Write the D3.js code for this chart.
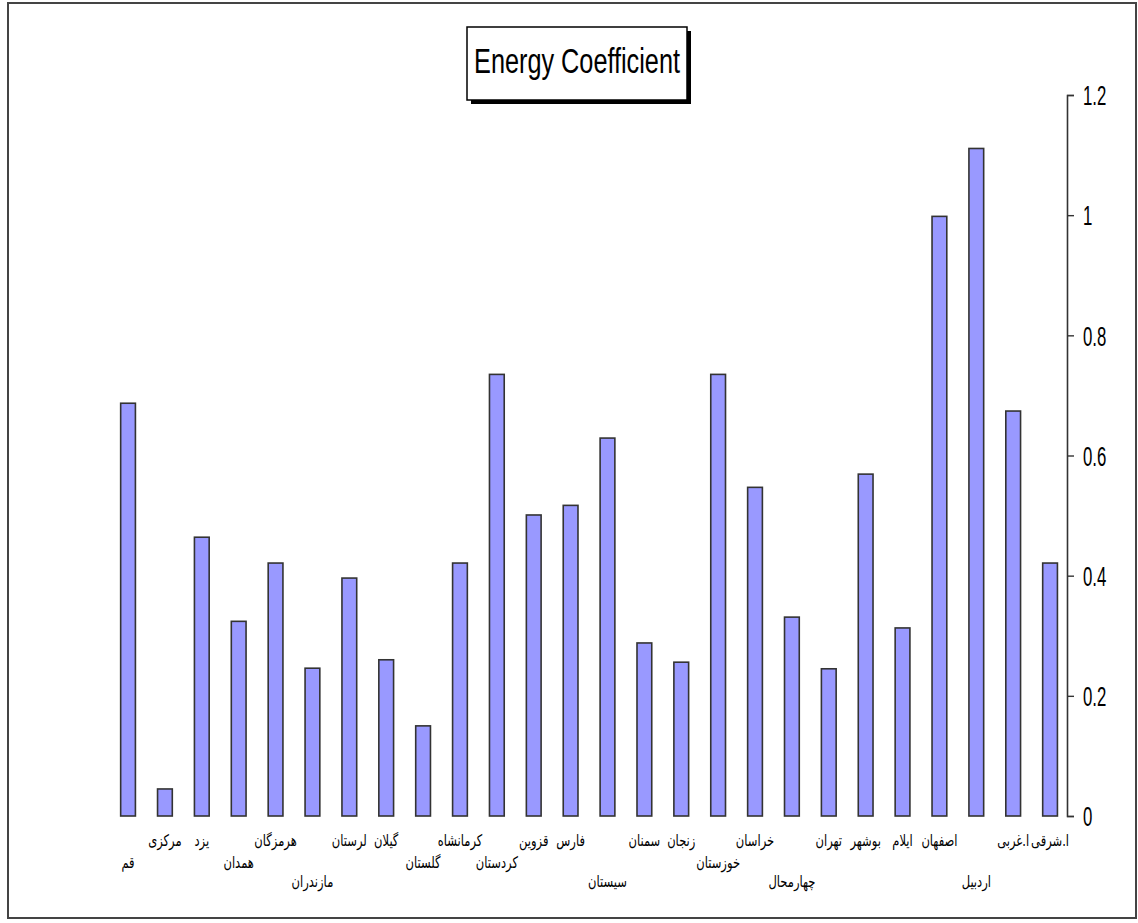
<!DOCTYPE html>
<html><head><meta charset="utf-8">
<script src="https://cdn.jsdelivr.net/npm/d3@7"></script>
<style>body{margin:0;background:#fff}</style>
</head><body><svg id="c" width="1138" height="923"></svg>
<script>
const categories = ["قم","مرکزی","یزد","همدان","هرمزگان","مازندران","لرستان","گیلان","گلستان","کرمانشاه","کردستان","قزوین","فارس","سیستان","سمنان","زنجان","خوزستان","خراسان","چهارمحال","تهران","بوشهر","ایلام","اصفهان","اردبیل","ا.غربی","ا.شرقی"];
const values = [0.687,0.045,0.464,0.324,0.421,0.246,0.396,0.260,0.150,0.421,0.735,0.501,0.517,0.629,0.288,0.256,0.735,0.547,0.331,0.245,0.569,0.313,0.998,1.111,0.674,0.421];
const yTicks = [0,0.2,0.4,0.6,0.8,1,1.2];
const labelRows = [1,0,0,1,0,2,0,0,1,0,1,0,0,2,0,0,1,0,2,0,0,0,0,2,0,0];
const title = "Energy Coefficient";

const svg = d3.select("#c");
// outer frame
svg.append("rect").attr("x",8).attr("y",3).attr("width",1128).attr("height",915)
  .attr("fill","#fff").attr("stroke","#444").attr("stroke-width",2);

const x = d3.scaleBand().domain(categories).range([109.6,1068.5]).paddingInner(0.6).paddingOuter(0.3);
const y = d3.scaleLinear().domain([0,1.2]).range([816,95]);

// bars
svg.append("g").selectAll("rect").data(values).join("rect")
  .attr("x",(d,i)=>x(categories[i]))
  .attr("y",d=>y(d))
  .attr("width",x.bandwidth())
  .attr("height",d=>y(0)-y(d))
  .attr("fill","#9999FF").attr("stroke","#333").attr("stroke-width",1.6);

// y axis on right
const axisX = 1067;
const ax = svg.append("g").attr("transform",`translate(${axisX},0)`)
  .call(d3.axisRight(y).tickValues(yTicks).tickSize(7).tickPadding(8).tickFormat(d=>String(+d.toFixed(1))));
ax.select(".domain").attr("stroke","#333").attr("stroke-width",1.6);
ax.selectAll(".tick line").attr("stroke","#333").attr("stroke-width",1.4);
ax.selectAll(".tick text").each(function(){
  const t=d3.select(this);
  const xx=+t.attr("x");
  t.attr("x",null).attr("dy",null)
   .attr("font-family","Liberation Sans, Arial, sans-serif").attr("font-size",28)
   .attr("fill","#000").attr("dominant-baseline","central")
   .attr("transform",`translate(${xx+1},0) scale(0.6,1)`);
});

// x labels
const rowY = [846,868,887];
svg.append("g").selectAll("text").data(categories).join("text")
  .attr("transform",(d,i)=>`translate(${x(d)+x.bandwidth()/2},${rowY[labelRows[i]]}) scale(0.72,1)`)
  .attr("text-anchor","middle")
  .attr("font-family","DejaVu Sans, sans-serif").attr("font-size",16)
  .attr("fill","#000")
  .text(d=>d);

// title box
const bx=467, by=27, bw=220, bh=73;
svg.append("rect").attr("x",bx+4).attr("y",by+4).attr("width",bw).attr("height",bh).attr("fill","#000");
svg.append("rect").attr("x",bx).attr("y",by).attr("width",bw).attr("height",bh).attr("fill","#fff").attr("stroke","#000").attr("stroke-width",1.5);
const tt = svg.append("text").attr("font-family","Liberation Sans, Arial, sans-serif").attr("font-size",35)
  .attr("fill","#000").attr("text-anchor","middle").text(title);
const tw = tt.node().getComputedTextLength();
tt.attr("transform",`translate(${bx+bw/2},73) scale(${206/tw},1)`);
</script></body></html>
